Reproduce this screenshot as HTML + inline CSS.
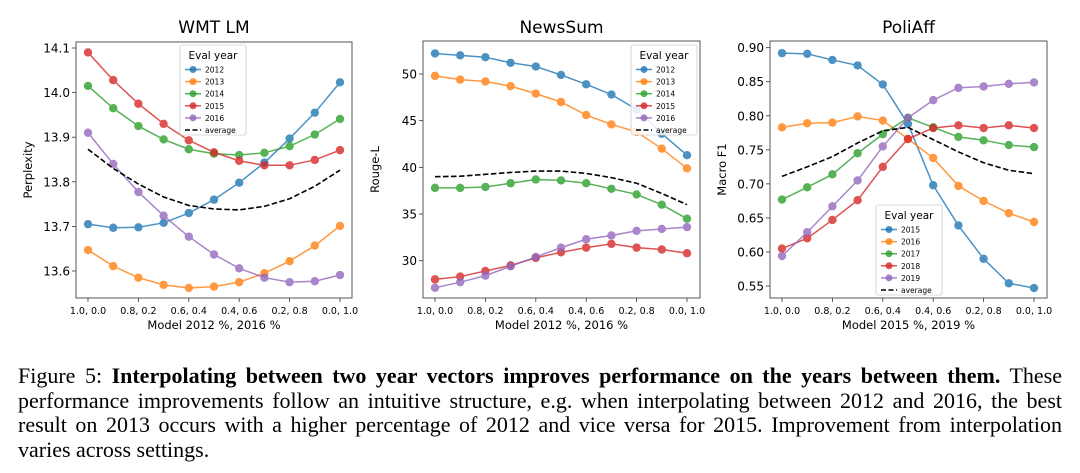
<!DOCTYPE html>
<html><head><meta charset="utf-8"><style>
html,body{margin:0;padding:0;background:#fff;width:1080px;height:473px;overflow:hidden}
svg{position:absolute;left:0;top:0}
#cap{position:absolute;left:18px;top:364px;width:1044px;font-family:"Liberation Serif",serif;font-size:22px;line-height:24.7px;color:#000}
#cap div{text-align:justify;text-align-last:justify;white-space:nowrap}
#cap div.last{text-align-last:left}
</style></head><body>
<svg id="chart" width="1080" height="350"></svg>
<div id="cap">
<div>Figure 5: <b>Interpolating between two year vectors improves performance on the years between them.</b> These</div>
<div>performance improvements follow an intuitive structure, e.g. when interpolating between 2012 and 2016, the best</div>
<div>result on 2013 occurs with a higher percentage of 2012 and vice versa for 2015. Improvement from interpolation</div>
<div class="last">varies across settings.</div>
</div>
<script>
const xLabels=["1.0, 0.0","0.8, 0.2","0.6, 0.4","0.4, 0.6","0.2, 0.8","0.0, 1.0"];
const colors=["#1f77b4","#ff7f0e","#2ca02c","#d62728","#9467bd"];
const wmtYears=["2012","2013","2014","2015","2016"];
const wmt2012=[13.705,13.697,13.698,13.708,13.730,13.760,13.798,13.843,13.897,13.955,14.023];
const wmt2013=[13.647,13.611,13.585,13.569,13.562,13.565,13.575,13.595,13.622,13.657,13.701];
const wmt2014=[14.015,13.965,13.925,13.895,13.873,13.863,13.860,13.865,13.880,13.906,13.941];
const wmt2015=[14.090,14.028,13.975,13.930,13.893,13.866,13.847,13.837,13.837,13.849,13.871];
const wmt2016=[13.910,13.840,13.777,13.724,13.677,13.637,13.606,13.585,13.575,13.577,13.591];
const wmtAvg=[13.873,13.830,13.795,13.766,13.747,13.739,13.737,13.745,13.762,13.790,13.826];
const wmtTicks=[13.6,13.7,13.8,13.9,14.0,14.1];
const newsYears=["2012","2013","2014","2015","2016"];
const news2012=[52.2,52.0,51.8,51.2,50.8,49.9,48.9,47.8,46.2,43.6,41.3];
const news2013=[49.8,49.4,49.2,48.7,47.9,47.0,45.6,44.6,43.8,42.0,39.9];
const news2014=[37.8,37.8,37.9,38.3,38.7,38.6,38.3,37.7,37.1,36.0,34.5];
const news2015=[28.0,28.3,28.9,29.5,30.3,30.9,31.4,31.8,31.4,31.2,30.8];
const news2016=[27.1,27.7,28.4,29.4,30.4,31.4,32.3,32.7,33.2,33.4,33.6];
const newsAvg=[39.0,39.05,39.25,39.45,39.6,39.6,39.35,38.9,38.3,37.2,36.0];
const newsTicks=[30,35,40,45,50];
const poliYears=["2015","2016","2017","2018","2019"];
const poli2015=[.892,.891,.882,.874,.846,.788,.698,.639,.590,.554,.547];
const poli2016=[.783,.789,.790,.799,.793,.766,.738,.697,.675,.657,.644];
const poli2017=[.677,.695,.714,.745,.773,.797,.783,.769,.764,.757,.754];
const poli2018=[.605,.620,.647,.676,.725,.766,.782,.786,.782,.786,.782];
const poli2019=[.594,.629,.667,.705,.755,.797,.823,.841,.843,.847,.849];
const poliAvg=[.711,.725,.740,.760,.778,.783,.765,.747,.731,.720,.715];
const poliTicks=[0.55,0.60,0.65,0.70,0.75,0.80,0.85,0.90];

const NS="http://www.w3.org/2000/svg";
const svg=document.getElementById("chart");
function mk(tag,attrs,parent){const e=document.createElementNS(NS,tag);for(const k in attrs)e.setAttribute(k,attrs[k]);(parent||svg).appendChild(e);return e;}

function panel(o){
  const g=mk("g",{});
  
  
  const xs=i=>o.x0+(o.x1-o.x0)*i/10;
  const ys=v=>o.yA+(v-o.vA)*(o.yB-o.yA)/(o.vB-o.vA);
  const t=mk("text",{x:(o.bx0+o.bx1)/2,y:33,"text-anchor":"middle","font-family":"DejaVu Sans, sans-serif","font-size":"17"},g);
  t.textContent=o.title;
  
  
  o.ticks.forEach(v=>{
    const y=ys(v);
    mk("line",{x1:o.bx0-4,x2:o.bx0,y1:y,y2:y,stroke:"#333","stroke-width":"0.8"},g);
    const tt=mk("text",{x:o.bx0-6,y:y+4.5,"text-anchor":"end","font-family":"DejaVu Sans, sans-serif","font-size":"12"},g);
    tt.textContent=o.fmt(v);
    
    
  });
  xLabels.forEach((l,k)=>{
    const x=xs(k*2);
    mk("line",{x1:x,x2:x,y1:o.by1,y2:o.by1+4,stroke:"#333","stroke-width":"0.8"},g);
    const tt=mk("text",{x:x,y:o.by1+16,"text-anchor":"middle","font-family":"DejaVu Sans, sans-serif","font-size":"9.5"},g);
    tt.textContent=l;
    
    
  });
  const xt=mk("text",{x:(o.bx0+o.bx1)/2,y:o.by1+31,"text-anchor":"middle","font-family":"DejaVu Sans, sans-serif","font-size":"11.5"},g);
  xt.textContent=o.xTitle;
  
  
  const cy=(o.by0+o.by1)/2, cx=o.bx0-44;
  const yt=mk("text",{x:cx,y:cy,"text-anchor":"middle","font-family":"DejaVu Sans, sans-serif","font-size":"11.5",transform:`rotate(-90 ${cx} ${cy})`},g);
  yt.textContent=o.yTitle;
  
  
  o.series.forEach((s,si)=>{
    const sg=mk("g",{opacity:"0.8"},g);
    
    
    mk("polyline",{points:s.map((v,i)=>xs(i)+","+ys(v)).join(" "),fill:"none",stroke:colors[si],"stroke-width":"1.5"},sg);
    s.forEach((v,i)=>{
      const c=mk("circle",{cx:xs(i),cy:ys(v),r:"4.2",fill:colors[si]},sg);
      
      
    });
  });
  const av=mk("polyline",{points:o.avg.map((v,i)=>xs(i)+","+ys(v)).join(" "),fill:"none",stroke:"#000","stroke-width":"1.6","stroke-dasharray":"5.5,2.5"},g);
  
  
  const frame=mk("rect",{x:o.bx0,y:o.by0,width:o.bx1-o.bx0,height:o.by1-o.by0,fill:"none",stroke:"#444","stroke-width":"0.9"},g);
  
  
  const L=o.leg;
  const lg=mk("g",{},g);
  
  
  mk("rect",{x:L.x,y:L.y,width:66,height:90,rx:2,fill:"#fff","fill-opacity":"0.85",stroke:"#ccc","stroke-width":"0.8"},lg);
  const lt=mk("text",{x:L.x+33,y:L.y+14,"text-anchor":"middle","font-family":"DejaVu Sans, sans-serif","font-size":"10.5"},lg);
  lt.textContent="Eval year";
  
  
  o.years.concat(["average"]).forEach((yv,k)=>{
    const y=L.y+24.5+k*12.1;
    const e=mk("g",{},lg);
    
    
    if(k<5){
      mk("line",{x1:L.x+5,x2:L.x+21,y1:y,y2:y,stroke:colors[k],"stroke-width":"1.5",opacity:"0.8"},e);
      mk("circle",{cx:L.x+13,cy:y,r:"3.5",fill:colors[k],opacity:"0.8"},e);
    } else {
      mk("line",{x1:L.x+5,x2:L.x+21,y1:y,y2:y,stroke:"#000","stroke-width":"1.6","stroke-dasharray":"5,2.5"},e);
    }
    const et=mk("text",{x:L.x+25,y:y+3,"font-family":"DejaVu Sans, sans-serif","font-size":"7.5"},e);
    et.textContent=yv;
  });
}
panel({name:"wmt-lm",title:"WMT LM",xTitle:"Model 2012 %, 2016 %",yTitle:"Perplexity",
  bx0:76,bx1:352,by0:42,by1:298,x0:88,x1:340,yA:48,vA:14.1,yB:271,vB:13.6,
  ticks:wmtTicks,fmt:v=>v.toFixed(1),years:wmtYears,
  series:[wmt2012,wmt2013,wmt2014,wmt2015,wmt2016],avg:wmtAvg,leg:{x:180,y:45}});
panel({name:"newssum",title:"NewsSum",xTitle:"Model 2012 %, 2016 %",yTitle:"Rouge-L",
  bx0:423,bx1:700,by0:41,by1:298,x0:435,x1:687,yA:74,vA:50,yB:260.7,vB:30,
  ticks:newsTicks,fmt:v=>String(v),years:newsYears,
  series:[news2012,news2013,news2014,news2015,news2016],avg:newsAvg,leg:{x:631,y:45}});
panel({name:"poliaff",title:"PoliAff",xTitle:"Model 2015 %, 2019 %",yTitle:"Macro F1",
  bx0:770,bx1:1047,by0:41,by1:298,x0:782,x1:1034,yA:47.7,vA:0.90,yB:286,vB:0.55,
  ticks:poliTicks,fmt:v=>v.toFixed(2),years:poliYears,
  series:[poli2015,poli2016,poli2017,poli2018,poli2019],avg:poliAvg,leg:{x:876,y:205}});
</script>
</body></html>
